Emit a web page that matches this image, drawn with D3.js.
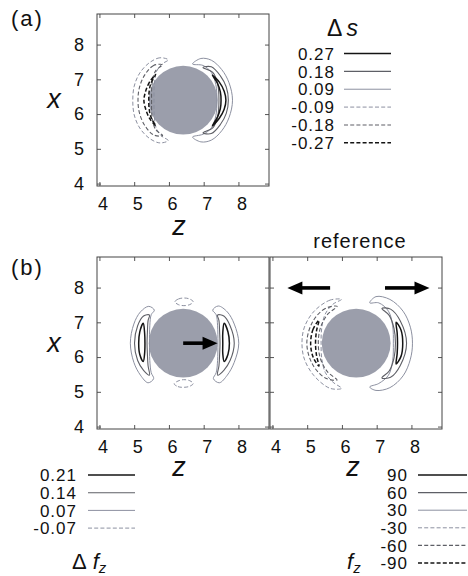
<!DOCTYPE html>
<meta charset="utf-8">
<style>

body { margin: 0; background: #fff; }

text {
  font-family: "Liberation Sans", Arial, Helvetica, sans-serif;
  fill: #111;
}

.frame {
  fill: none;
  stroke: #444;
  stroke-width: 1px;
}

.axis line { stroke: #555; }

.axis text {
  font-family: "Liberation Sans", Arial, Helvetica, sans-serif;
  font-size: 18px;
  fill: #111;
}

.sphere { fill: #9b9eab; }

.contour { fill: none; }

.arrow { fill: #000; }

.legend text { font-size: 17px; letter-spacing: 1px; }

.title { font-style: italic; font-size: 27px; }

.tag { font-size: 22px; letter-spacing: 2px; }

</style>
<svg width="468" height="576"></svg>
<script src="https://d3js.org/d3.v7.min.js"></script>
<script>

// axes (same for every panel)
var axisDomain = [3.93, 8.88];
var zTicks = [4, 5, 6, 7, 8];
var xTicks = [4, 5, 6, 7, 8];

// sphere: centre z, centre x, radius
var sphere = [6.41, 6.40, 0.99];

// contour levels as in the legends
var dsLevels = [0.27, 0.18, 0.09, -0.09, -0.18, -0.27];
var dfLevels = [0.21, 0.14, 0.07, -0.07];
var fzLevels = [90, 60, 30, -30, -60, -90];

// (a) delta s contours, [z, x] points
var dsPos09 = [[6.68,7.44],[6.92,7.60],[7.22,7.55],[7.52,7.28],[7.73,6.90],[7.83,6.40],[7.73,5.90],[7.52,5.52],[7.22,5.25],[6.92,5.20],[6.68,5.34],
               [6.98,5.42],[7.22,5.60],[7.35,5.95],[7.38,6.40],[7.35,6.85],[7.22,7.20],[6.98,7.40]];
var dsPos18 = [[6.98,7.34],[7.22,7.36],[7.48,7.10],[7.65,6.78],[7.71,6.40],[7.65,6.02],[7.48,5.70],[7.22,5.44],[6.98,5.46],
               [7.26,5.60],[7.40,5.92],[7.44,6.40],[7.40,6.88],[7.26,7.20]];
var dsPos27 = [[7.25,7.12],[7.45,6.92],[7.59,6.66],[7.64,6.40],[7.59,6.14],[7.45,5.88],[7.25,5.66],
               [7.40,5.92],[7.48,6.16],[7.50,6.40],[7.48,6.64],[7.40,6.88]];
var dsNeg09 = [[5.98,7.56],[5.74,7.62],[5.44,7.48],[5.16,7.18],[5.00,6.80],[4.96,6.40],[5.00,5.98],[5.16,5.60],[5.44,5.30],[5.74,5.17],[5.98,5.24],
               [5.80,5.36],[5.64,5.58],[5.58,5.95],[5.57,6.40],[5.58,6.85],[5.64,7.22],[5.80,7.44]];
var dsNeg18 = [[5.82,7.42],[5.56,7.40],[5.30,7.12],[5.15,6.76],[5.11,6.40],[5.15,6.04],[5.30,5.68],[5.56,5.40],[5.82,5.38],
               [5.62,5.55],[5.52,5.88],[5.50,6.40],[5.52,6.92],[5.62,7.25]];
var dsNeg27 = [[5.62,7.14],[5.44,6.92],[5.32,6.62],[5.28,6.40],[5.32,6.18],[5.44,5.88],[5.62,5.66],
               [5.48,5.92],[5.43,6.16],[5.42,6.40],[5.43,6.64],[5.48,6.88]];

// (b) delta f_z contours
var dfPosR07 = [[7.26,7.35],[7.42,7.47],[7.68,7.30],[7.88,6.95],[8.01,6.40],[7.88,5.85],[7.68,5.48],[7.45,5.26],[7.28,5.38],
                [7.36,5.55],[7.40,5.90],[7.41,6.40],[7.40,6.90],[7.36,7.22]];
var dfPosR14 = [[7.40,7.21],[7.58,7.18],[7.76,6.90],[7.88,6.40],[7.76,5.90],[7.58,5.62],[7.40,5.48],
                [7.44,5.75],[7.46,6.10],[7.47,6.40],[7.46,6.70],[7.44,7.05]];
var dfPosR21 = [[7.59,6.97],[7.70,6.72],[7.74,6.40],[7.70,6.08],[7.59,5.87],
                [7.55,6.10],[7.55,6.40],[7.55,6.70]];
var dfPosL07 = [[5.58,7.35],[5.42,7.46],[5.18,7.30],[4.99,6.95],[4.89,6.40],[4.99,5.85],[5.18,5.48],[5.40,5.26],[5.56,5.38],
                [5.49,5.55],[5.45,5.90],[5.44,6.40],[5.45,6.90],[5.49,7.22]];
var dfPosL14 = [[5.44,7.21],[5.27,7.18],[5.10,6.90],[5.01,6.40],[5.10,5.90],[5.27,5.62],[5.44,5.48],
                [5.40,5.75],[5.38,6.10],[5.37,6.40],[5.38,6.70],[5.40,7.05]];
var dfPosL21 = [[5.26,6.97],[5.16,6.72],[5.13,6.40],[5.16,6.08],[5.26,5.87],
                [5.30,6.10],[5.31,6.40],[5.30,6.70]];
var dfNegTop = [[6.17,7.59],[6.27,7.67],[6.43,7.70],[6.60,7.67],[6.70,7.59],[6.60,7.51],[6.43,7.48],[6.27,7.51]];
var dfNegBot = [[6.15,5.23],[6.26,5.15],[6.42,5.13],[6.60,5.16],[6.70,5.24],[6.60,5.32],[6.42,5.35],[6.26,5.31]];

// (b) reference f_z contours
var fzPos30 = [[6.80,7.56],[6.98,7.74],[7.38,7.66],[7.76,7.32],[7.97,6.86],[8.03,6.40],[7.97,5.94],[7.76,5.46],[7.38,5.12],[6.98,5.04],[6.80,5.14],
               [7.06,5.24],[7.34,5.48],[7.46,5.90],[7.48,6.40],[7.46,6.90],[7.34,7.32],[7.06,7.56]];
var fzPos60 = [[7.15,7.40],[7.40,7.38],[7.68,7.04],[7.86,6.40],[7.68,5.76],[7.40,5.42],[7.15,5.40],
               [7.36,5.60],[7.50,5.98],[7.54,6.40],[7.50,6.82],[7.36,7.20]];
var fzPos90 = [[7.56,7.00],[7.70,6.78],[7.75,6.40],[7.70,6.02],[7.56,5.80],
               [7.59,6.10],[7.60,6.40],[7.59,6.70]];
var fzNeg30 = [[5.99,7.66],[5.66,7.64],[5.20,7.32],[4.92,6.86],[4.85,6.40],[4.92,5.94],[5.20,5.46],[5.66,5.10],[5.99,5.10],
               [5.74,5.28],[5.52,5.56],[5.42,5.96],[5.40,6.40],[5.42,6.84],[5.52,7.24],[5.74,7.52]];
var fzNeg60 = [[5.86,7.46],[5.52,7.40],[5.16,7.02],[4.99,6.40],[5.16,5.78],[5.52,5.40],[5.86,5.34],
               [5.58,5.58],[5.38,5.96],[5.32,6.40],[5.38,6.84],[5.58,7.22]];
var fzNeg90 = [[5.34,7.06],[5.17,6.80],[5.10,6.40],[5.17,6.00],[5.34,5.74],
               [5.27,6.04],[5.24,6.40],[5.27,6.76]];

// arrows: [from z, from x, to z, to x]
var arrowsDf = [[6.41, 6.40, 7.40, 6.40]];
var arrowsFz = [[5.66, 7.99, 4.43, 7.99], [7.24, 7.99, 8.52, 7.99]];

var rankColor = ["#8c90a0", "#5e5f66", "#141414"];
var rankWidth = [1.0, 1.1, 1.5];

function styleFor(level, levels) {
  var mags = levels.filter(function(v) { return v > 0; }).sort(d3.ascending);
  var rank = mags.indexOf(Math.abs(level));
  if (rank < 0) rank = 0;
  return {
    color: rankColor[rank],
    width: rankWidth[rank],
    dash: level < 0 ? "4,2.2" : null
  };
}

var svg = d3.select("svg");
var size = 172;

var panels = [
  { left: 97, top: 14, levels: dsLevels, zLabels: true, xLabels: true, arrows: [],
    contours: [[0.09, dsPos09], [0.18, dsPos18], [0.27, dsPos27], [-0.09, dsNeg09], [-0.18, dsNeg18], [-0.27, dsNeg27]] },
  { left: 97, top: 257, levels: dfLevels, zLabels: true, xLabels: true, arrows: arrowsDf,
    contours: [[0.07, dfPosR07], [0.14, dfPosR14], [0.21, dfPosR21], [0.07, dfPosL07], [0.14, dfPosL14], [0.21, dfPosL21],
               [-0.07, dfNegTop], [-0.07, dfNegBot]] },
  { left: 270, top: 257, levels: fzLevels, zLabels: true, xLabels: false, arrows: arrowsFz,
    contours: [[30, fzPos30], [60, fzPos60], [90, fzPos90], [-30, fzNeg30], [-60, fzNeg60], [-90, fzNeg90]] }
];

panels.forEach(function(p) {
  var g = svg.append("g").attr("transform", "translate(" + p.left + "," + p.top + ")");
  var sx = d3.scaleLinear().domain(axisDomain).range([0, size]);
  var sy = d3.scaleLinear().domain(axisDomain).range([size, 0]);

  var line = d3.line()
      .x(function(d) { return sx(d[0]); })
      .y(function(d) { return sy(d[1]); })
      .curve(d3.curveCatmullRomClosed.alpha(0.5));

  g.append("circle")
      .attr("class", "sphere")
      .attr("cx", sx(sphere[0]))
      .attr("cy", sy(sphere[1]))
      .attr("r", sx(sphere[0] + sphere[2]) - sx(sphere[0]));

  g.selectAll("path.contour")
    .data(p.contours)
    .enter().append("path")
      .attr("class", "contour")
      .attr("d", function(d) { return line(d[1]); })
      .each(function(d) {
        var s = styleFor(d[0], p.levels);
        d3.select(this)
            .attr("stroke", s.color)
            .attr("stroke-width", s.width)
            .attr("stroke-dasharray", s.dash);
      });

  // arrows
  p.arrows.forEach(function(a) {
    var x1 = sx(a[0]), y1 = sy(a[1]), x2 = sx(a[2]), y2 = sy(a[3]);
    var len = Math.sqrt((x2 - x1) * (x2 - x1) + (y2 - y1) * (y2 - y1));
    var ang = Math.atan2(y2 - y1, x2 - x1) * 180 / Math.PI;
    var head = 15, hw = 6.5;
    var ag = g.append("g").attr("transform", "translate(" + x1 + "," + y1 + ") rotate(" + ang + ")");
    ag.append("rect").attr("class", "arrow")
        .attr("x", 0).attr("y", -1.8).attr("width", len - head + 1).attr("height", 3.6);
    ag.append("path").attr("class", "arrow")
        .attr("d", "M" + len + ",0L" + (len - head) + "," + (-hw) + "L" + (len - head) + "," + hw + "Z");
  });

  // axes: ticks on every side pointing inwards
  var bottom = g.append("g").attr("class", "axis")
      .attr("transform", "translate(0," + size + ")")
      .call(d3.axisBottom(sx).tickValues(zTicks).tickSize(-4).tickSizeOuter(0).tickPadding(11)
        .tickFormat(p.zLabels ? d3.format("d") : ""));
  bottom.selectAll("text").attr("dx", 3);
  g.append("g").attr("class", "axis")
      .call(d3.axisTop(sx).tickValues(zTicks).tickSize(-4).tickSizeOuter(0).tickFormat(""));
  g.append("g").attr("class", "axis")
      .call(d3.axisLeft(sy).tickValues(xTicks).tickSize(-4).tickSizeOuter(0).tickPadding(13)
        .tickFormat(p.xLabels ? d3.format("d") : ""));
  g.append("g").attr("class", "axis")
      .attr("transform", "translate(" + size + ",0)")
      .call(d3.axisRight(sy).tickValues(xTicks).tickSize(-4).tickSizeOuter(0).tickFormat(""));
  g.selectAll(".domain").remove();

  g.append("rect").attr("class", "frame")
      .attr("x", 0).attr("y", 0).attr("width", size).attr("height", size);
});

// axis titles and panel tags
var titles = [
  ["z", 179, 235], ["z", 179, 476], ["z", 353, 476],
  ["x", 54, 108], ["x", 54, 352]
];
svg.selectAll("text.title")
  .data(titles)
  .enter().append("text")
    .attr("class", "title")
    .attr("text-anchor", "middle")
    .attr("x", function(d) { return d[1]; })
    .attr("y", function(d) { return d[2]; })
    .text(function(d) { return d[0]; });

svg.append("text").attr("class", "tag").attr("x", 11).attr("y", 26).text("(a)");
svg.append("text").attr("class", "tag").attr("x", 11).attr("y", 275).text("(b)");
svg.append("text").attr("x", 360).attr("y", 248).attr("text-anchor", "middle")
    .style("font-size", "20px").style("letter-spacing", "1px").text("reference");

// legends
function legend(levels, textX, lineX1, lineX2, y0, step) {
  var lg = svg.append("g").attr("class", "legend");
  var row = lg.selectAll("g")
    .data(levels)
    .enter().append("g")
      .attr("transform", function(d, i) { return "translate(0," + (y0 + i * step) + ")"; });
  row.append("text")
      .attr("x", textX)
      .attr("y", 6.2)
      .attr("text-anchor", "end")
      .text(function(d) { return String(d); });
  row.append("line")
      .attr("x1", lineX1).attr("x2", lineX2)
      .each(function(d) {
        var s = styleFor(d, levels);
        d3.select(this)
            .attr("stroke", s.color)
            .attr("stroke-width", s.width)
            .attr("stroke-dasharray", s.dash);
      });
}

legend(dsLevels, 335, 344, 391, 53.5, 17.86);
legend(dfLevels, 77, 88, 135, 475, 17.7);
legend(fzLevels, 408, 418, 467, 475, 17.6);

// legend titles
var t1 = svg.append("text").attr("x", 327).attr("y", 36).style("font-size", "23px");
t1.append("tspan").text("\u0394");
t1.append("tspan").attr("dx", 4).style("font-style", "italic").text("s");

var t2 = svg.append("text").attr("x", 72).attr("y", 569).style("font-size", "22px");
t2.append("tspan").text("\u0394");
t2.append("tspan").attr("dx", 6).style("font-style", "italic").text("f");
t2.append("tspan").attr("dy", 4).style("font-style", "italic").style("font-size", "15px").text("z");

var t3 = svg.append("text").attr("x", 347).attr("y", 569).style("font-size", "22px");
t3.append("tspan").style("font-style", "italic").text("f");
t3.append("tspan").attr("dy", 4).style("font-style", "italic").style("font-size", "15px").text("z");

</script>
